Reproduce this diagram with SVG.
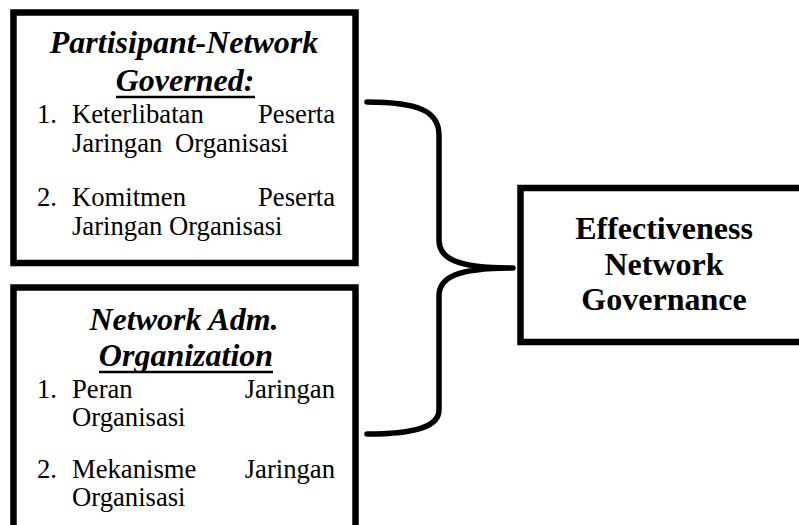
<svg xmlns="http://www.w3.org/2000/svg" width="799" height="525" viewBox="0 0 799 525">
<style>
.box{fill:#fff;stroke:#000;stroke-width:6.5}
.title{font-family:"Liberation Serif","Times New Roman",serif;font-size:32px;font-weight:bold;font-style:italic;fill:#000;text-anchor:middle}
.body{font-family:"Liberation Serif","Times New Roman",serif;font-size:26.67px;fill:#000}
.end{text-anchor:end}
.main{font-family:"Liberation Serif","Times New Roman",serif;font-size:32px;font-weight:bold;fill:#000;text-anchor:middle}
.ul{stroke:#000;stroke-width:2.5}
.brace{fill:none;stroke:#000;stroke-width:5.5;stroke-linecap:round;stroke-linejoin:round}
</style>
<rect width="799" height="525" fill="#fff"/>
<g id="node-participant">
<rect class="box" x="13.5" y="12.5" width="342" height="250.5"/>
<text class="title" x="184" y="53">Partisipant-Network</text>
<text class="title" x="185" y="91">Governed:</text>
<line class="ul" x1="116" y1="97" x2="255" y2="97"/>
<text class="body" x="37" y="123">1.</text>
<text class="body" x="72" y="123">Keterlibatan</text>
<text class="body end" x="335" y="123">Peserta</text>
<text class="body" x="72" y="152">Jaringan</text>
<text class="body" x="175" y="152">Organisasi</text>
<text class="body" x="37" y="206">2.</text>
<text class="body" x="72" y="206">Komitmen</text>
<text class="body end" x="335" y="206">Peserta</text>
<text class="body" x="72" y="235">Jaringan Organisasi</text>
</g>
<g id="node-nao">
<rect class="box" x="13.5" y="287.5" width="342" height="260"/>
<text class="title" x="184" y="330">Network Adm.</text>
<text class="title" x="186" y="366">Organization</text>
<line class="ul" x1="99" y1="372" x2="273" y2="372"/>
<text class="body" x="37" y="398">1.</text>
<text class="body" x="72" y="398">Peran</text>
<text class="body end" x="335" y="398">Jaringan</text>
<text class="body" x="72" y="426">Organisasi</text>
<text class="body" x="37" y="478">2.</text>
<text class="body" x="72" y="478">Mekanisme</text>
<text class="body end" x="335" y="478">Jaringan</text>
<text class="body" x="72" y="506">Organisasi</text>
</g>
<g id="node-effectiveness">
<rect class="box" x="520.5" y="188" width="300" height="154"/>
<text class="main" x="664" y="239">Effectiveness</text>
<text class="main" x="664" y="275">Network</text>
<text class="main" x="664" y="310">Governance</text>
</g>
<g id="connectors">
<path class="brace" d="M367,102 C420,102 439,112 439,135 L439,240 C439,258 455,268 513,268 C455,268 439,278 439,296 L439,410 C439,425 420,434 367,434"/>
</g>
</svg>
